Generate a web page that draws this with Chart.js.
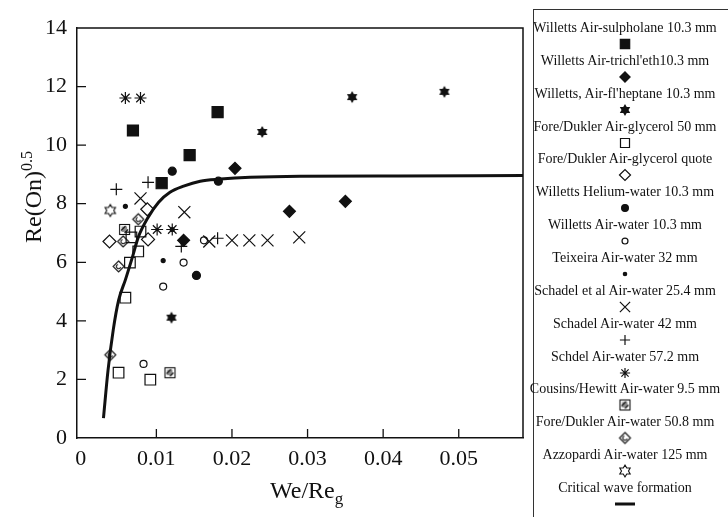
<!doctype html>
<html><head><meta charset="utf-8">
<title>Critical wave formation</title>
<script src="https://cdn.jsdelivr.net/npm/chart.js@4"></script>
<style>
  html,body{margin:0;padding:0;background:#fff}
  #wrap{position:relative;width:728px;height:517px;overflow:hidden;font-family:"Liberation Serif","DejaVu Serif",serif;color:#111}
  #chart{position:absolute;left:0;top:0}
  .ytitle{position:absolute;left:30px;top:197px;transform:translate(-50%,-50%) rotate(-90deg);font-size:24px;white-space:nowrap;line-height:28px}
  .ytitle sup{font-size:16px}
  .xtitle{position:absolute;left:270px;top:476px;font-size:24px;line-height:28px;white-space:nowrap}
  .xtitle sub{font-size:17px}
  #legendBox{position:absolute;left:533px;top:9px;width:240px;height:560px;border:1.5px solid #333}
  .lab{position:absolute;width:240px;text-align:center;font-size:14px;line-height:16px;white-space:nowrap}
  .sym{position:absolute}
</style>
</head><body>
<div id="wrap">
  <canvas id="chart" width="728" height="517"></canvas>
  <div class="ytitle">Re(On)<sup>0.5</sup></div>
  <div class="xtitle">We/Re<sub>g</sub></div>
  <div id="legendBox"></div>
</div>
<script>
// series names, in legend order
const seriesLabels = [
  'Willetts Air-sulpholane 10.3 mm',
  "Willetts Air-trichl'eth10.3 mm",
  "Willetts, Air-fl'heptane 10.3 mm",
  'Fore/Dukler Air-glycerol 50 mm',
  'Fore/Dukler Air-glycerol quote',
  'Willetts Helium-water 10.3 mm',
  'Willetts Air-water 10.3 mm',
  'Teixeira Air-water 32 mm',
  'Schadel et al Air-water 25.4 mm',
  'Schadel Air-water 42 mm',
  'Schdel Air-water 57.2 mm',
  'Cousins/Hewitt Air-water 9.5 mm',
  'Fore/Dukler Air-water 50.8 mm',
  'Azzopardi Air-water 125 mm',
  'Critical wave formation'
];

// values (x = We/Re_g, y = Re(On)^0.5)
const sulpholaneX = [0.0069, 0.0181, 0.0144, 0.0107];
const sulpholaneY = [10.5, 11.13, 9.66, 8.7];
const trichlethX = [0.0204, 0.0350, 0.0276, 0.0136];
const trichlethY = [9.21, 8.08, 7.74, 6.75];
const heptaneX = [0.0240, 0.0359, 0.0481, 0.0120];
const heptaneY = [10.45, 11.64, 11.82, 4.11];
const glycerol50X = [0.0050, 0.0092, 0.0059, 0.0065, 0.0076, 0.0067, 0.0079];
const glycerol50Y = [2.23, 1.99, 4.79, 5.99, 6.37, 6.85, 7.05];
const glycerolQuoteX = [0.0038, 0.0088, 0.0089];
const glycerolQuoteY = [6.71, 7.81, 6.78];
const heliumX = [0.0121, 0.0182, 0.0153];
const heliumY = [9.11, 8.77, 5.55];
const airWaterX = [0.0136, 0.0109, 0.0083, 0.0163];
const airWaterY = [5.99, 5.17, 2.53, 6.75];
const teixeiraX = [0.0059, 0.0109, 0.0121];
const teixeiraY = [7.91, 6.06, 7.12];
const schadel25X = [0.0079, 0.0137, 0.0170, 0.0200, 0.0223, 0.0247, 0.0289];
const schadel25Y = [8.18, 7.71, 6.71, 6.75, 6.75, 6.75, 6.85];
const schadel42X = [0.0047, 0.0089, 0.0181, 0.0133];
const schadel42Y = [8.49, 8.73, 6.82, 6.54];
const schdel57X = [0.0059, 0.0079, 0.0101, 0.0121];
const schdel57Y = [11.61, 11.61, 7.12, 7.12];
const cousinsX = [0.0058, 0.0118];
const cousinsY = [7.12, 2.23];
const dukler508X = [0.0050, 0.0039, 0.0056, 0.0076];
const dukler508Y = [5.86, 2.84, 6.71, 7.47];
const azzopardiX = [0.0039];
const azzopardiY = [7.77];
const curveX = [0.0030, 0.0036, 0.0043, 0.0050, 0.0059, 0.0068, 0.0076, 0.0089, 0.0103, 0.0118, 0.0136, 0.0158, 0.0185, 0.0224, 0.0290, 0.0420, 0.0585];
const curveY = [0.68, 2.3, 3.7, 4.7, 5.4, 6.15, 6.85, 7.53, 8.05, 8.39, 8.6, 8.77, 8.84, 8.9, 8.94, 8.95, 8.96];

const yTicks = [0, 2, 4, 6, 8, 10, 12, 14];
const xTicks = [0, 0.01, 0.02, 0.03, 0.04, 0.05];

const ink = '#111';
const serif = '"Liberation Serif", "DejaVu Serif", serif';

// hand drawn marker shapes the library has no style for
function symbolCanvas(kind, r) {
  const c = document.createElement('canvas');
  const s = Math.ceil(2 * r + 4);
  c.width = c.height = s;
  const g = c.getContext('2d');
  const m = s / 2;
  g.strokeStyle = ink; g.fillStyle = ink; g.lineWidth = 1.1;
  if (kind === 'star6' || kind === 'star6open') {
    g.beginPath();
    for (let i = 0; i < 12; i++) {
      const a = -Math.PI / 2 + i * Math.PI / 6;
      const rr = i % 2 ? r * 0.58 : r;
      g.lineTo(m + rr * Math.cos(a), m + rr * Math.sin(a));
    }
    g.closePath();
    if (kind === 'star6') g.fill(); else g.stroke();
  } else if (kind === 'hatch') {
    g.strokeRect(m - r + 0.5, m - r + 0.5, 2 * r - 1, 2 * r - 1);
    g.fillStyle = 'rgba(0,0,0,0.45)';
    g.fillRect(m - r + 2.5, m - r + 2.5, r, r);
    g.beginPath();
    g.moveTo(m - r + 2, m + 1); g.lineTo(m + 1, m - r + 2);
    g.moveTo(m, m + r - 2); g.lineTo(m + r - 2, m);
    g.stroke();
  } else if (kind === 'swirl') {
    g.beginPath();
    g.moveTo(m, m - r); g.lineTo(m + r, m); g.lineTo(m, m + r); g.lineTo(m - r, m); g.closePath();
    g.stroke();
    g.beginPath();
    g.arc(m, m, r * 0.4, 0.3, Math.PI * 1.4);
    g.stroke();
  }
  return c;
}

const markerStyles = [
  { pointStyle: 'rect', radius: 7.8, fill: ink },
  { pointStyle: 'rectRot', radius: 6, fill: ink },
  { pointStyle: symbolCanvas('star6', 6), radius: 6, fill: ink },
  { pointStyle: 'rect', radius: 7.5, fill: 'rgba(0,0,0,0)' },
  { pointStyle: 'rectRot', radius: 6.5, fill: 'rgba(0,0,0,0)' },
  { pointStyle: 'circle', radius: 4, fill: ink },
  { pointStyle: 'circle', radius: 3.5, fill: 'rgba(0,0,0,0)' },
  { pointStyle: 'circle', radius: 2, fill: ink },
  { pointStyle: 'crossRot', radius: 8.5, fill: ink },
  { pointStyle: 'cross', radius: 6, fill: ink },
  { pointStyle: 'star', radius: 6, fill: ink },
  { pointStyle: symbolCanvas('hatch', 5.5), radius: 5.5, fill: ink },
  { pointStyle: symbolCanvas('swirl', 5.5), radius: 5.5, fill: ink },
  { pointStyle: symbolCanvas('star6open', 6), radius: 6, fill: ink }
];

const seriesX = [sulpholaneX, trichlethX, heptaneX, glycerol50X, glycerolQuoteX, heliumX, airWaterX,
  teixeiraX, schadel25X, schadel42X, schdel57X, cousinsX, dukler508X, azzopardiX];
const seriesY = [sulpholaneY, trichlethY, heptaneY, glycerol50Y, glycerolQuoteY, heliumY, airWaterY,
  teixeiraY, schadel25Y, schadel42Y, schdel57Y, cousinsY, dukler508Y, azzopardiY];

const pair = (xs, ys) => xs.map((x, i) => ({ x, y: ys[i] }));

const datasets = seriesX.map((xs, i) => ({
  label: seriesLabels[i],
  data: pair(xs, seriesY[i]),
  pointStyle: markerStyles[i].pointStyle,
  pointRadius: markerStyles[i].radius,
  pointBackgroundColor: markerStyles[i].fill,
  pointBorderColor: ink,
  pointBorderWidth: 1.2,
  showLine: false
}));
datasets.push({
  label: seriesLabels[14],
  data: pair(curveX, curveY),
  showLine: true,
  pointRadius: 0,
  borderColor: ink,
  borderWidth: 3,
  cubicInterpolationMode: 'monotone',
  fill: false
});

// top/right frame and inward tick marks
const frameTicks = {
  id: 'frameTicks',
  afterDraw(chart) {
    const { ctx, chartArea: a, scales: { x, y } } = chart;
    ctx.save();
    ctx.strokeStyle = ink;
    ctx.lineWidth = 1.5;
    ctx.beginPath();
    ctx.moveTo(a.left, a.top); ctx.lineTo(a.right, a.top);
    ctx.moveTo(a.right, a.top - 0.75); ctx.lineTo(a.right, a.bottom);
    ctx.stroke();
    ctx.lineWidth = 1.3;
    ctx.beginPath();
    yTicks.filter(v => v > 0 && v < 14).forEach(v => {
      const py = y.getPixelForValue(v);
      ctx.moveTo(a.left, py); ctx.lineTo(a.left + 9, py);
    });
    xTicks.filter(v => v > 0).forEach(v => {
      const px = x.getPixelForValue(v);
      ctx.moveTo(px, a.bottom); ctx.lineTo(px, a.bottom - 9);
    });
    ctx.stroke();
    ctx.restore();
  }
};

const tickFont = { family: serif, size: 22 };

new Chart(document.getElementById('chart'), {
  type: 'scatter',
  data: { datasets },
  options: {
    responsive: false,
    animation: false,
    devicePixelRatio: 1,
    layout: { padding: { top: 28, right: 205, left: 0, bottom: 0 } },
    plugins: { legend: { display: false }, tooltip: { enabled: false } },
    scales: {
      x: {
        type: 'linear', min: -0.0005, max: 0.0585,
        afterFit(s) { s.height = 79; },
        afterBuildTicks(s) { s.ticks = xTicks.map(v => ({ value: v })); },
        grid: { drawOnChartArea: false, drawTicks: false },
        border: { color: ink, width: 1.5 },
        ticks: { padding: 8, color: ink, font: tickFont, maxRotation: 0, autoSkip: false,
          callback: v => v === 0 ? '0' : (+v).toFixed(2) }
      },
      y: {
        type: 'linear', min: 0, max: 14,
        afterFit(s) { s.width = 77; },
        afterBuildTicks(s) { s.ticks = yTicks.map(v => ({ value: v })); },
        grid: { drawOnChartArea: false, drawTicks: false },
        border: { color: ink, width: 1.5 },
        ticks: { padding: 10, color: ink, font: tickFont, autoSkip: false }
      }
    }
  },
  plugins: [frameTicks]
});

// legend: label line with its marker under it
const wrap = document.getElementById('wrap');
seriesLabels.forEach((name, i) => {
  const cy = 28 + i * 32.86;
  const lab = document.createElement('div');
  lab.className = 'lab';
  lab.textContent = name;
  lab.style.left = (625 - 120) + 'px';
  lab.style.top = (cy - 8) + 'px';
  wrap.appendChild(lab);

  const c = document.createElement('canvas');
  c.width = 26; c.height = 22; c.className = 'sym';
  c.style.left = (625 - 13) + 'px';
  c.style.top = (cy + 16 - 11) + 'px';
  const g = c.getContext('2d');
  g.strokeStyle = ink;
  if (i < markerStyles.length) {
    const st = markerStyles[i];
    g.fillStyle = st.fill;
    g.lineWidth = 1.2;
    Chart.helpers.drawPoint(g, { pointStyle: st.pointStyle, radius: st.radius * 0.85, rotation: 0, borderWidth: 1.2 }, 13, 11);
  } else {
    g.lineWidth = 3;
    g.beginPath(); g.moveTo(3, 11); g.lineTo(23, 11); g.stroke();
  }
  wrap.appendChild(c);
});
</script>
</body></html>
